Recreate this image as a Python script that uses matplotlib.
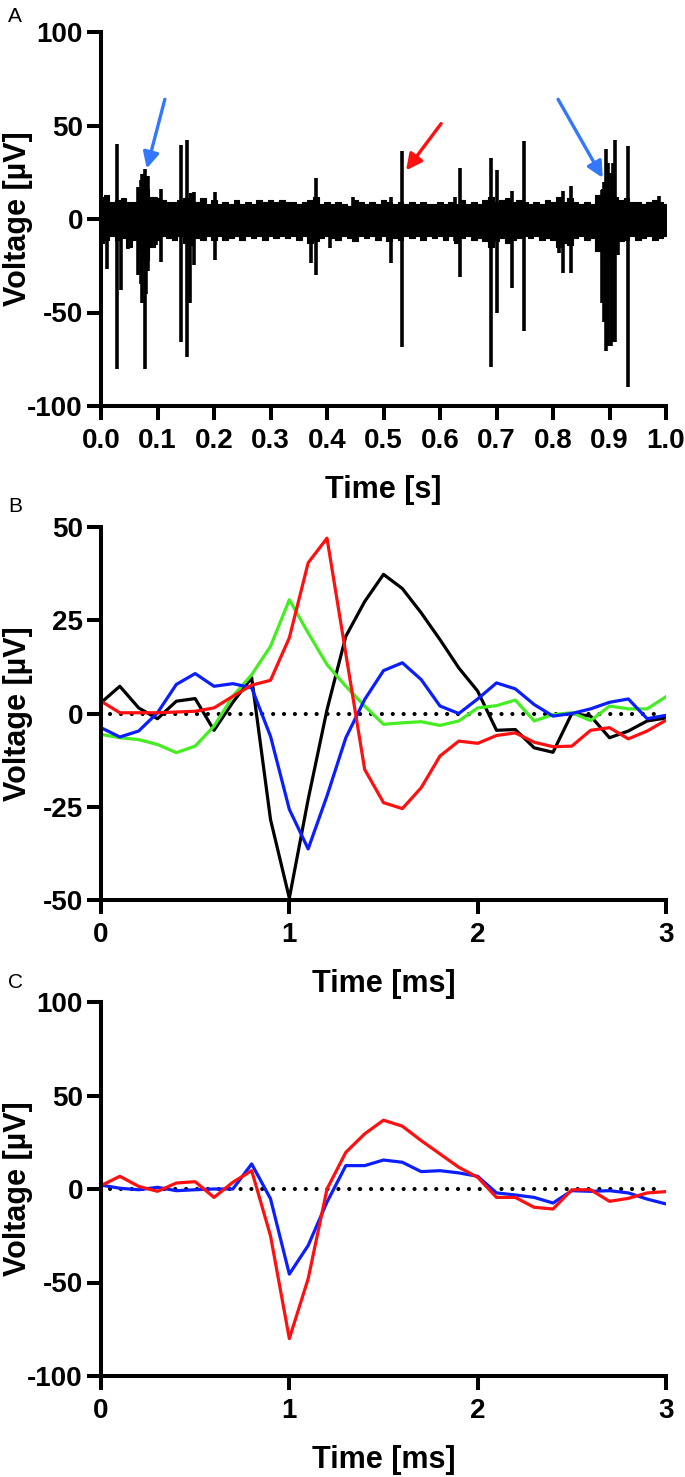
import matplotlib.pyplot as plt
import numpy as np

plt.rcParams['font.family'] = ['Liberation Sans', 'DejaVu Sans']
plt.rcParams['axes.unicode_minus'] = False

# ---- Panel A: 1 s raw recording (noise envelope + spikes) ----
noise_t = np.linspace(0.0, 1.0, 101)
noise_hi = [12, 13, 9, 10, 11, 9, 9, 14, 16, 12, 11, 10, 9, 9, 10, 11, 14, 9, 11, 8, 10,
            8, 9, 8, 10, 8, 9, 8, 10, 9, 10, 9, 10, 9, 9, 8, 9, 10, 12, 8, 9,
            8, 9, 8, 7, 10, 9, 8, 9, 8, 10, 9, 8, 9, 8, 9, 8, 9, 8, 8, 9,
            8, 9, 8, 10, 8, 9, 8, 10, 12, 9, 10, 11, 9, 10, 9, 8, 9, 8, 10, 9,
            12, 9, 11, 9, 8, 9, 8, 13, 16, 14, 12, 10, 11, 9, 9, 8, 9, 10, 9, 8]
noise_lo = [-13, -11, -9, -11, -10, -15, -11, -17, -22, -15, -11, -9, -10, -11, -9, -13, -14, -10, -11, -9, -11,
            -9, -11, -10, -9, -11, -9, -10, -9, -11, -9, -10, -9, -10, -9, -11, -9, -13, -12, -10, -9,
            -10, -11, -9, -10, -12, -9, -10, -9, -11, -9, -12, -10, -11, -9, -10, -9, -11, -9, -10, -9,
            -11, -9, -13, -10, -9, -11, -10, -12, -15, -12, -10, -13, -11, -10, -9, -10, -9, -11, -10, -11,
            -15, -13, -14, -10, -9, -11, -10, -17, -23, -21, -17, -12, -11, -9, -11, -10, -9, -11, -10, -9]

spike_t = [0.011, 0.029, 0.036, 0.048, 0.066, 0.070, 0.073, 0.077, 0.080, 0.083, 0.098, 0.107,
           0.142, 0.153, 0.157, 0.164, 0.201, 0.372, 0.381, 0.405, 0.446, 0.514, 0.533, 0.626,
           0.636, 0.691, 0.700, 0.727, 0.749, 0.810, 0.818, 0.832, 0.886, 0.890, 0.894, 0.898,
           0.902, 0.906, 0.909, 0.915, 0.932, 0.988]
spike_hi = [13, 40, 10, 8, 17, 21, 24, 26.5, 22, 23, 12, 16,
            39.6, 42.2, 8, 14.6, 14.3, 8, 21.7, 8, 12, 11.6, 36.4, 11.6,
            27.1, 32.6, 26.2, 15, 41.8, 10, 15, 17.4, 15.5, 20, 37.3, 30,
            24.4, 30, 42.2, 10, 39.1, 12.3]
spike_lo = [-27, -80, -38, -16, -30, -35, -45, -80, -40, -28, -14, -23,
            -65.6, -73.6, -45, -24.6, -22, -23.7, -30, -15.7, -10, -23.7, -68.3, -12,
            -31.2, -79.3, -50, -37, -59.7, -18, -29, -29, -45, -55, -70.4, -68,
            -68, -66, -65.6, -19, -89.7, -10]

# ---- Panel B: four spike waveforms ----
t_ms = np.linspace(0.0, 3.0, 31)
wave_black = [2.9, 7.3, 1.5, -1.4, 3.3, 4.0, -4.5, 3.0, 9.6, -28.4, -49.5, -23, 1, 20.7, 30, 37.3,
              33.5, 27, 19.8, 12.2, 6, -4.5, -4.3, -9.2, -10.4, 0, -0.7, -6.5, -4.7, -2, -1.2]
wave_blue = [-3.8, -6.3, -4.7, 0.2, 7.8, 10.7, 7.3, 8, 6.9, -6.1, -25.7, -36.3, -22.1, -6.5, 3.75, 11.5,
             13.6, 9.1, 2, 0, 3.9, 8.2, 6.6, 2.4, -0.7, 0, 1.25, 3, 3.9, -1.4, -0.5]
wave_green = [-5.6, -6.5, -7, -8.3, -10.5, -8.75, -3.4, 4.6, 10.4, 18, 30.5, 21.6, 13.1, 7.3, 2, -2.9,
              -2.5, -2.2, -3.2, -2, 1.5, 2.1, 3.6, -2, -0.3, 0.2, -1.9, 2, 1.25, 1.25, 4.5]
wave_red = [3.3, 0.2, 0.2, 0.2, 0.4, 0.6, 1.5, 4.6, 7.6, 8.9, 20.3, 40.4, 47, 16, -15, -23.9,
            -25.5, -19.9, -11.4, -7.4, -8, -5.9, -5.2, -7.7, -8.9, -8.75, -4.5, -3.8, -6.8, -4.7, -1.8]

# ---- Panel C: two mean waveforms ----
mean_blue = [2.1, 0.4, -0.4, 0.9, -0.9, -0.4, 0, 0, 13.4, -5.2, -45.5, -30.2, -7, 12.5, 12.5, 15.5,
             14.3, 9.3, 9.8, 8.6, 6.8, -2.1, -3.2, -4.5, -7.5, -0.9, -1.25, -0.9, -2.1, -5.4, -8]
mean_red = [1.8, 6.8, 1.4, -1.25, 3.2, 3.9, -4.5, 3.6, 9.8, -25, -80, -48, 0, 19.6, 29.5, 36.8,
            33.6, 25.9, 18.75, 11.6, 6.25, -4.5, -4.5, -9.8, -10.7, -0.4, -0.4, -6.6, -5, -2.1, -1.4]

BLUE = '#0a1eff'
RED = '#ff1010'
GREEN = '#44ee22'
ARROW_BLUE = '#3377ff'
TICK_FS = 20
LABEL_FS = 22
AX_LW = 2.9


def style_axes(ax):
    for s in ['top', 'right']:
        ax.spines[s].set_visible(False)
    for s in ['left', 'bottom']:
        ax.spines[s].set_linewidth(AX_LW)
    ax.tick_params(width=AX_LW, length=10, labelsize=TICK_FS)
    ax.tick_params(axis='x', pad=6)
    ax.tick_params(axis='y', pad=3)
    for lab in ax.get_xticklabels() + ax.get_yticklabels():
        lab.set_fontweight('bold')
    ax.yaxis.set_label_coords(-0.120, 0.5)


def zero_line(ax):
    ax.plot([0.05, 2.95], [0, 0], color='black', lw=3, ls=(0, (0.01, 2.6)),
            dash_capstyle='round')


fig = plt.figure(figsize=(6.85, 14.77), dpi=100)

# Panel A
axA = fig.add_axes([101 / 685, 1 - 406 / 1477, 565 / 685, 374 / 1477])
axA.fill_between(noise_t, noise_lo, noise_hi, step='mid', color='black', lw=0.8)
axA.vlines(spike_t, spike_lo, spike_hi, color='black', lw=2.6)
axA.set_xlim(0, 1.0)
axA.set_ylim(-100, 100)
axA.set_xticks(np.linspace(0, 1, 11))
axA.set_xticklabels([f'{v:.1f}' for v in np.linspace(0, 1, 11)])
axA.set_yticks([-100, -50, 0, 50, 100])
axA.set_yticklabels(['-100', '-50', '0', '50', '100'])
axA.set_xlabel('Time [s]', fontsize=LABEL_FS, fontweight='bold', labelpad=15)
axA.set_ylabel('Voltage [µV]', fontsize=LABEL_FS, fontweight='bold')
arrow_kw = dict(arrowstyle='-|>', lw=2.4, mutation_scale=24, shrinkA=0, shrinkB=0)
axA.annotate('', xy=(0.081, 27), xytext=(0.113, 64),
             arrowprops=dict(color=ARROW_BLUE, **arrow_kw))
axA.annotate('', xy=(0.540, 26), xytext=(0.602, 51),
             arrowprops=dict(color=RED, **arrow_kw))
axA.annotate('', xy=(0.888, 22), xytext=(0.809, 64),
             arrowprops=dict(color=ARROW_BLUE, **arrow_kw))
style_axes(axA)

# Panel B
axB = fig.add_axes([101 / 685, 1 - 900 / 1477, 565 / 685, 373 / 1477])
zero_line(axB)
axB.plot(t_ms, wave_black, color='black', lw=2.3)
axB.plot(t_ms, wave_green, color=GREEN, lw=2.3)
axB.plot(t_ms, wave_blue, color=BLUE, lw=2.3)
axB.plot(t_ms, wave_red, color=RED, lw=2.3)
axB.set_xlim(0, 3)
axB.set_ylim(-50, 50)
axB.set_xticks([0, 1, 2, 3])
axB.set_yticks([-50, -25, 0, 25, 50])
axB.set_yticklabels(['-50', '-25', '0', '25', '50'])
axB.set_xlabel('Time [ms]', fontsize=LABEL_FS, fontweight='bold', labelpad=15)
axB.set_ylabel('Voltage [µV]', fontsize=LABEL_FS, fontweight='bold')
style_axes(axB)

# Panel C
axC = fig.add_axes([101 / 685, 1 - 1376 / 1477, 565 / 685, 374 / 1477])
zero_line(axC)
axC.plot(t_ms, mean_blue, color=BLUE, lw=2.3)
axC.plot(t_ms, mean_red, color=RED, lw=2.3)
axC.set_xlim(0, 3)
axC.set_ylim(-100, 100)
axC.set_xticks([0, 1, 2, 3])
axC.set_yticks([-100, -50, 0, 50, 100])
axC.set_yticklabels(['-100', '-50', '0', '50', '100'])
axC.set_xlabel('Time [ms]', fontsize=LABEL_FS, fontweight='bold', labelpad=15)
axC.set_ylabel('Voltage [µV]', fontsize=LABEL_FS, fontweight='bold')
style_axes(axC)

for letter, ypix in [('A', 17), ('B', 506), ('C', 983)]:
    fig.text(8 / 685, 1 - ypix / 1477, letter, fontsize=15, va='center', ha='left')

fig.savefig('out.png', dpi=100)
